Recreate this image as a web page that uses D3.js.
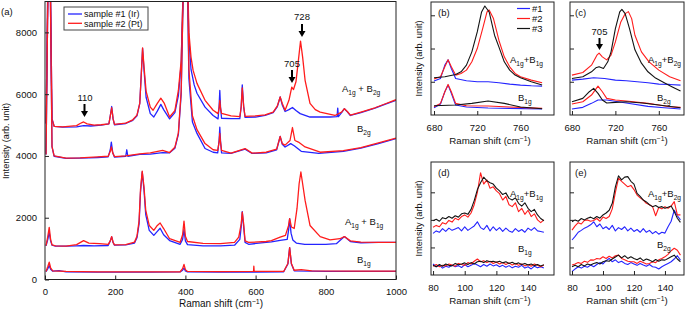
<!DOCTYPE html>
<html>
<head>
<meta charset="utf-8">
<script src="https://cdnjs.cloudflare.com/ajax/libs/d3/7.8.5/d3.min.js"></script>
<style>
  body { margin: 0; background: #fff; }
  svg { display: block; font-family: "Liberation Sans", Arial, sans-serif; }
</style>
</head>
<body>
<svg id="fig" width="685" height="309"></svg>
<script>
// ---- panel (a): full spectra, [Raman shift, intensity] pairs ----
const a_A1gB2g_s1 = [[3,5050],[8,9500],[12,12000],[16,9000],[20,5200],[26,4960],[50,4930],[90,4940],[110,4980],[130,4970],[160,5000],[182,5040],[186,5300],[190,5600],[194,5200],[198,5010],[230,5050],[250,5150],[262,5300],[270,5700],[275,6800],[278,7480],[282,6800],[288,5900],[300,5370],[310,5260],[320,5450],[330,5670],[338,5500],[355,5200],[370,5400],[380,5950],[388,7000],[395,10000],[400,12000],[405,10000],[410,7800],[416,6800],[425,6300],[433,6030],[456,5580],[479,5310],[493,5200],[496,5600],[498,6120],[500,5600],[503,5220],[530,5210],[555,5210],[559,5600],[562,6300],[566,5600],[570,5250],[600,5260],[627,5310],[650,5400],[662,5600],[670,5910],[676,5650],[684,5440],[695,5500],[705,5570],[715,5470],[727,5370],[755,5260],[812,5260],[832,5270],[834,5550],[836,5270],[845,5400],[853,5530],[862,5420],[870,5310],[900,5400],[940,5550],[970,5680],[1000,5800]];
const a_A1gB2g_s2 = [[3,5050],[8,9500],[12,12000],[16,9000],[20,5200],[26,4960],[50,4940],[90,4980],[100,5050],[110,5100],[120,5040],[140,5000],[160,5010],[182,5040],[186,5300],[190,5560],[194,5200],[198,5020],[230,5060],[250,5170],[262,5320],[270,5700],[275,6800],[278,7500],[282,6900],[288,6100],[300,5580],[308,5480],[320,5700],[330,5870],[340,5700],[355,5260],[370,5470],[380,6120],[388,7100],[395,10000],[400,12000],[405,10500],[410,8000],[416,7200],[422,6770],[433,6350],[456,5800],[479,5480],[493,5370],[496,5550],[498,5800],[500,5550],[503,5380],[530,5300],[555,5270],[559,5600],[562,6200],[566,5600],[570,5280],[600,5300],[627,5330],[650,5420],[662,5620],[670,5910],[676,5700],[684,5480],[695,5800],[703,6230],[708,6150],[715,6400],[722,7100],[728,7720],[734,7200],[741,6450],[755,5700],[770,5500],[784,5420],[826,5310],[845,5420],[853,5530],[862,5430],[870,5320],[900,5420],[940,5560],[970,5690],[1000,5820]];
const a_B2g_s1 = [[3,4050],[8,9000],[12,12000],[16,8500],[20,4300],[26,3990],[60,3920],[100,3930],[150,3950],[180,3970],[186,4200],[189,4450],[193,4100],[198,3960],[230,3990],[233,4200],[236,3990],[270,4050],[300,4060],[335,4110],[355,4100],[370,4250],[380,4700],[388,6000],[395,10000],[400,12000],[405,10000],[410,6500],[420,5100],[433,4730],[456,4240],[479,4120],[492,4100],[496,4500],[498,4930],[500,4500],[503,4100],[530,4080],[570,4220],[590,4080],[630,4100],[660,4200],[670,4630],[676,4380],[684,4290],[700,4400],[710,4330],[730,4150],[780,4080],[850,4150],[900,4250],[950,4400],[1000,4560]];
const a_B2g_s2 = [[3,4050],[8,9000],[12,12000],[16,8500],[20,4300],[26,4000],[60,3930],[100,3940],[150,3970],[180,3990],[186,4150],[189,4290],[193,4100],[198,3980],[230,4000],[270,4070],[300,4100],[335,4180],[355,4110],[370,4280],[380,4750],[388,6100],[395,10000],[400,12000],[405,10500],[410,6800],[420,5300],[433,4850],[456,4400],[479,4200],[492,4180],[496,4450],[498,4730],[500,4450],[503,4180],[530,4090],[570,4240],[590,4090],[630,4120],[660,4220],[670,4630],[676,4400],[684,4350],[698,4500],[705,4920],[712,4500],[722,4450],[741,4290],[784,4120],[850,4170],[900,4270],[950,4420],[1000,4580]];
const a_A1gB1g_s1 = [[3,1090],[8,1300],[12,1530],[16,1250],[20,1110],[30,1080],[60,1080],[90,1090],[110,1100],[140,1090],[180,1100],[186,1250],[190,1380],[194,1200],[198,1110],[230,1120],[255,1180],[262,1350],[268,1800],[272,2800],[277,3480],[282,2900],[287,2100],[297,1590],[310,1430],[320,1560],[328,1660],[338,1450],[355,1260],[385,1140],[392,1300],[396,1610],[400,1250],[406,1130],[450,1090],[500,1090],[540,1110],[555,1300],[559,1700],[562,2200],[566,1700],[570,1200],[580,1140],[630,1200],[645,1220],[670,1270],[690,1300],[694,1600],[697,1970],[701,1500],[706,1280],[716,1180],[740,1140],[800,1140],[830,1160],[853,1390],[870,1230],[900,1190],[950,1200],[1000,1200]];
const a_A1gB1g_s2 = [[3,1100],[8,1400],[12,1690],[16,1300],[20,1120],[30,1090],[60,1080],[90,1130],[110,1260],[125,1180],[155,1160],[180,1140],[186,1250],[190,1390],[194,1200],[198,1120],[230,1130],[255,1210],[262,1400],[268,1900],[272,2900],[277,3510],[282,3000],[287,2240],[297,1750],[310,1590],[320,1750],[328,1830],[338,1650],[355,1320],[385,1200],[392,1450],[396,1890],[400,1400],[406,1230],[450,1170],[500,1160],[540,1200],[552,1370],[559,1800],[562,2180],[566,1800],[570,1250],[580,1200],[630,1230],[645,1260],[670,1370],[685,1430],[694,1750],[697,1970],[702,1700],[710,1650],[718,2300],[724,3100],[729,3480],[734,3100],[741,2560],[755,1750],[784,1390],[812,1280],[840,1320],[853,1390],[870,1250],[900,1210],[950,1200],[1000,1200]];
const a_B1g_s1 = [[3,250],[8,350],[12,450],[16,330],[22,270],[40,290],[60,250],[150,240],[300,240],[385,245],[392,300],[396,370],[400,280],[406,245],[500,240],[600,240],[680,250],[692,500],[697,1030],[702,500],[710,280],[800,260],[900,260],[1000,260]];
const a_B1g_s2 = [[3,260],[8,420],[12,560],[16,380],[22,280],[60,260],[150,250],[300,250],[385,250],[392,350],[396,490],[400,320],[406,260],[500,255],[594,260],[595,430],[596,260],[680,260],[692,520],[697,1030],[702,520],[710,300],[730,320],[760,280],[900,270],[1000,270]];

// ---- panels (b), (c): 680-780 cm-1, arbitrary units ----
const b_upper_1 = [[680,1.02],[686,1.1],[690,1.5],[693,1.66],[696,1.4],[700,1.1],[710,1.03],[720,1.0],[730,1.0],[740,0.97],[750,0.93],[760,0.9],[770,0.88],[780,0.87]];
const b_upper_2 = [[680,1.08],[686,1.15],[690,1.45],[693,1.66],[696,1.45],[700,1.2],[705,1.25],[710,1.35],[715,1.6],[720,2.0],[725,2.6],[729,3.1],[731,3.16],[735,2.9],[740,2.25],[745,1.75],[750,1.45],[755,1.25],[760,1.15],[770,1.05],[780,0.97]];
const b_upper_3 = [[680,1.12],[690,1.15],[700,1.22],[705,1.3],[710,1.5],[715,1.9],[720,2.5],[724,3.1],[727,3.28],[731,3.1],[736,2.4],[740,2.05],[745,1.6],[750,1.35],[755,1.2],[760,1.12],[770,1.0],[780,0.9]];
const b_lower_1 = [[680,0.22],[686,0.33],[690,0.7],[693,0.9],[696,0.65],[700,0.3],[710,0.24],[730,0.21],[750,0.2],[780,0.18]];
const b_lower_2 = [[680,0.25],[686,0.35],[690,0.7],[693,0.92],[696,0.7],[700,0.35],[710,0.28],[730,0.27],[750,0.24],[780,0.2]];
const b_lower_3 = [[680,0.28],[700,0.3],[715,0.35],[730,0.42],[745,0.35],[760,0.24],[780,0.19]];

const c_upper_1 = [[680,1.05],[690,1.08],[700,1.12],[710,1.1],[720,1.05],[730,1.03],[740,1.0],[750,0.97],[760,0.93],[770,0.92],[780,0.9]];
const c_upper_2 = [[680,1.2],[690,1.28],[698,1.5],[703,1.8],[705,1.86],[708,1.75],[712,1.66],[716,1.8],[720,2.2],[725,2.8],[729,3.05],[732,3.11],[735,2.9],[738,2.4],[744,1.9],[751,1.6],[760,1.35],[770,1.15],[780,1.03]];
const c_upper_3 = [[680,1.1],[690,1.15],[698,1.3],[702,1.42],[705,1.45],[709,1.4],[713,1.6],[716,1.9],[720,2.6],[724,3.1],[726,3.18],[729,3.05],[733,2.6],[738,1.96],[744,1.56],[750,1.3],[757,1.11],[765,0.97],[772,0.85],[780,0.72]];
const c_lower_1 = [[680,0.18],[690,0.23],[698,0.35],[704,0.45],[712,0.45],[730,0.36],[750,0.26],[765,0.22],[780,0.18]];
const c_lower_2 = [[680,0.33],[690,0.4],[698,0.6],[704,0.87],[708,0.7],[712,0.5],[720,0.45],[730,0.42],[750,0.35],[760,0.3],[770,0.25],[780,0.23]];
const c_lower_3 = [[680,0.4],[690,0.5],[696,0.7],[700,0.8],[704,0.65],[708,0.45],[712,0.36],[720,0.38],[730,0.4],[745,0.36],[760,0.3],[780,0.22]];

// ---- panels (d), (e): 80-150 cm-1 ----
const lowShift = [80,82,84,86,88,90,92,94,96,98,100,102,104,106,108,110,112,114,116,118,120,122,124,126,128,130,132,134,136,138,140,142,144,146,148,150];
const d_upper_1 = [1.51,1.6,1.55,1.68,1.58,1.7,1.62,1.67,1.72,1.6,1.75,1.62,1.7,1.78,1.93,1.72,1.65,1.8,1.6,1.75,1.62,1.72,1.58,1.7,1.6,1.55,1.68,1.58,1.65,1.55,1.7,1.62,1.72,1.6,1.58,1.55];
const d_upper_2 = [1.73,1.8,1.75,1.9,1.85,1.98,1.92,2.06,2.0,2.12,2.18,2.1,2.25,2.55,3.0,3.71,3.3,3.45,3.15,3.2,3.05,2.95,2.72,2.85,2.55,2.48,2.62,2.3,2.42,2.2,2.35,2.12,2.22,2.0,1.9,2.0];
const d_upper_3 = [1.97,2.02,1.95,2.08,2.04,2.12,2.06,2.15,2.1,2.22,2.25,2.2,2.38,2.7,3.1,3.35,3.55,3.42,3.35,3.3,3.15,3.05,2.92,2.98,2.78,2.72,2.8,2.6,2.5,2.62,2.42,2.3,2.38,2.18,2.05,1.97];
const d_lower_1 = [0.4,0.3,0.35,0.25,0.32,0.28,0.36,0.3,0.34,0.27,0.38,0.3,0.35,0.42,0.36,0.3,0.38,0.32,0.4,0.33,0.37,0.3,0.35,0.28,0.34,0.26,0.32,0.28,0.35,0.25,0.3,0.22,0.32,0.26,0.3,0.25];
const d_lower_2 = [0.32,0.38,0.3,0.35,0.33,0.4,0.36,0.32,0.42,0.38,0.35,0.45,0.4,0.5,0.58,0.48,0.52,0.45,0.5,0.42,0.47,0.4,0.45,0.38,0.44,0.36,0.42,0.35,0.4,0.33,0.38,0.32,0.4,0.35,0.3,0.36];
const d_lower_3 = [0.35,0.3,0.38,0.32,0.4,0.35,0.33,0.42,0.37,0.4,0.44,0.38,0.45,0.4,0.48,0.5,0.45,0.52,0.48,0.5,0.46,0.5,0.44,0.48,0.42,0.46,0.4,0.44,0.38,0.42,0.36,0.4,0.34,0.38,0.33,0.37];
const e_upper_1 = [1.27,1.4,1.55,1.62,1.7,1.75,1.82,1.93,1.75,1.85,1.68,1.75,1.65,1.8,1.6,1.72,1.65,1.75,1.6,1.7,1.58,1.65,1.55,1.68,1.55,1.62,1.5,1.58,1.48,1.55,1.52,1.75,1.95,2.35,2.15,2.0];
const e_upper_2 = [1.63,1.78,1.9,1.85,1.98,2.0,1.95,1.98,2.05,1.95,2.1,2.05,2.12,2.4,3.0,3.51,3.4,3.3,3.2,3.25,3.1,2.9,2.8,2.72,2.6,2.55,2.48,2.15,2.45,2.4,2.48,2.42,2.5,2.66,2.18,2.18];
const e_upper_3 = [1.93,2.0,1.95,2.05,2.0,2.06,2.1,2.04,2.12,2.06,2.18,2.25,2.35,2.6,3.2,3.6,3.45,3.55,3.57,3.4,3.3,2.96,2.85,2.72,2.65,2.55,2.48,2.52,2.45,2.48,2.42,2.46,2.5,2.3,2.06,1.91];
const e_lower_1 = [0.12,0.22,0.3,0.25,0.32,0.28,0.36,0.3,0.38,0.45,0.4,0.52,0.6,0.48,0.55,0.45,0.5,0.42,0.38,0.45,0.4,0.35,0.42,0.36,0.32,0.38,0.3,0.28,0.22,0.3,0.36,0.42,0.48,0.58,0.7,0.54];
const e_lower_2 = [0.36,0.4,0.45,0.42,0.5,0.46,0.55,0.54,0.6,0.58,0.66,0.6,0.68,0.62,0.7,0.72,0.6,0.55,0.5,0.48,0.48,0.42,0.5,0.45,0.4,0.42,0.48,0.45,0.55,0.6,0.66,0.75,0.88,0.97,0.9,0.72];
const e_lower_3 = [0.3,0.35,0.3,0.38,0.33,0.4,0.36,0.42,0.45,0.4,0.48,0.52,0.5,0.58,0.65,0.72,0.62,0.7,0.6,0.66,0.6,0.55,0.62,0.52,0.58,0.54,0.48,0.56,0.5,0.55,0.54,0.6,0.66,0.72,0.58,0.48];

const ticksA_x = [0, 200, 400, 600, 800, 1000];
const ticksA_y = [0, 2000, 4000, 6000, 8000];
const ticksHigh = [680, 720, 760];
const ticksLow = [80, 100, 120, 140];
const ticksRel = [1, 2, 3];

const BLUE = '#2424ff', RED = '#ff1c1c', BLACK = '#141414';
const svg = d3.select('#fig');

// one framed panel with inward ticks, clipped traces
function drawPanel(id, box, xDom, yDom, xTicks, yTicks, showY, traces, lw) {
  const x = d3.scaleLinear().domain(xDom).range([box.x0, box.x1]);
  const y = d3.scaleLinear().domain(yDom).range([box.y1, box.y0]);

  svg.append('clipPath').attr('id', 'clip-' + id)
    .append('rect')
    .attr('x', box.x0).attr('y', box.y0)
    .attr('width', box.x1 - box.x0).attr('height', box.y1 - box.y0);

  const line = d3.line().x(d => x(d[0])).y(d => y(d[1]));
  const g = svg.append('g').attr('clip-path', 'url(#clip-' + id + ')');
  traces.forEach(t => {
    g.append('path')
      .attr('d', line(t.data))
      .attr('fill', 'none')
      .attr('stroke', t.color)
      .attr('stroke-width', lw)
      .attr('stroke-linejoin', 'round');
  });

  const xa = svg.append('g')
    .attr('transform', 'translate(0,' + box.y1 + ')')
    .call(d3.axisBottom(x).tickValues(xTicks).tickSize(-4).tickPadding(9).tickSizeOuter(0)
      .tickFormat(d3.format('d')));
  const ya = svg.append('g')
    .attr('transform', 'translate(' + box.x0 + ',0)')
    .call(d3.axisLeft(y).tickValues(yTicks).tickSize(-4).tickPadding(8).tickSizeOuter(0)
      .tickFormat(showY ? d3.format('d') : () => ''));
  [xa, ya].forEach(a => {
    a.select('.domain').remove();
    a.selectAll('line').attr('stroke', '#222');
    a.selectAll('text').attr('font-size', 9.5).attr('fill', '#111')
      .attr('font-family', '"Liberation Sans", Arial, sans-serif');
  });

  svg.append('rect')
    .attr('x', box.x0).attr('y', box.y0)
    .attr('width', box.x1 - box.x0).attr('height', box.y1 - box.y0)
    .attr('fill', 'none').attr('stroke', '#222').attr('stroke-width', 1);
  return { x, y };
}

// text with subscripts; parts = [text, isSub]
function subText(x, y, parts, size) {
  const fs = size || 9.5;
  const t = svg.append('text').attr('x', x).attr('y', y)
    .attr('font-size', fs).attr('fill', '#111');
  let shifted = false;
  parts.forEach(([s, sub]) => {
    const sp = t.append('tspan').text(s);
    if (sub && !shifted) { sp.attr('dy', 2.6).attr('font-size', fs * 0.7); shifted = true; }
    else if (sub) { sp.attr('font-size', fs * 0.7); }
    else if (shifted) { sp.attr('dy', -2.6); shifted = false; }
  });
  return t;
}

function xTitle(cx, y, fs) {
  const t = svg.append('text').attr('x', cx).attr('y', y)
    .attr('text-anchor', 'middle').attr('font-size', fs).attr('fill', '#111');
  t.append('tspan').text('Raman shift (cm');
  t.append('tspan').text('\u22121').attr('font-size', fs * 0.7).attr('dy', -3.5);
  t.append('tspan').text(')').attr('dy', 3.5);
}

function yTitle(x, cy) {
  svg.append('text')
    .attr('transform', 'translate(' + x + ',' + cy + ') rotate(-90)')
    .attr('text-anchor', 'middle').attr('font-size', 9.2).attr('fill', '#111')
    .text('Intensity (arb. unit)');
}

function arrow(x, yTop, yTip) {
  svg.append('line').attr('x1', x).attr('x2', x).attr('y1', yTop).attr('y2', yTip - 5)
    .attr('stroke', '#000').attr('stroke-width', 2);
  svg.append('path')
    .attr('d', 'M' + (x - 3.5) + ',' + (yTip - 6) + 'L' + (x + 3.5) + ',' + (yTip - 6) + 'L' + x + ',' + yTip + 'Z')
    .attr('fill', '#000');
}

function label(x, y, s, anchor) {
  svg.append('text').attr('x', x).attr('y', y).attr('font-size', 9.5).attr('fill', '#111')
    .attr('text-anchor', anchor || 'start').text(s);
}

// ---- (a) ----
const pairs = (s1, s2) => [{ data: s1, color: BLUE }, { data: s2, color: RED }];
drawPanel('a', { x0: 45, x1: 396, y0: 1.5, y1: 279.5 }, [0, 1000], [0, 9000], ticksA_x, ticksA_y, true,
  [].concat(pairs(a_A1gB2g_s1, a_A1gB2g_s2), pairs(a_B2g_s1, a_B2g_s2),
            pairs(a_A1gB1g_s1, a_A1gB1g_s2), pairs(a_B1g_s1, a_B1g_s2)), 1.3);
xTitle(221, 307, 10);
yTitle(9, 141);
label(1, 15, '(a)');

const leg = svg.append('g');
leg.append('rect').attr('x', 64).attr('y', 7).attr('width', 84).attr('height', 23)
  .attr('fill', '#fff').attr('stroke', '#444');
[['sample #1 (Ir)', BLUE, 14], ['sample #2 (Pt)', RED, 23.3]].forEach(([t, c, yy]) => {
  leg.append('line').attr('x1', 68).attr('x2', 82).attr('y1', yy).attr('y2', yy)
    .attr('stroke', c).attr('stroke-width', 1.3);
  leg.append('text').attr('x', 84).attr('y', yy + 3.2).attr('font-size', 9).attr('fill', '#111').text(t);
});

subText(342, 92, [['A'], ['1g', 1], [' + B'], ['2g', 1]]);
subText(357, 132, [['B'], ['2g', 1]]);
subText(345, 225, [['A'], ['1g', 1], [' + B'], ['1g', 1]]);
subText(357, 263, [['B'], ['1g', 1]]);

label(85, 101, '110', 'middle'); arrow(84.5, 104, 117);
label(292, 67, '705', 'middle'); arrow(292, 70, 83);
label(302, 20, '728', 'middle'); arrow(302, 24, 37);

// ---- (b) ----
const trio = (s1, s2, s3) => [{ data: s1, color: BLUE }, { data: s2, color: RED }, { data: s3, color: BLACK }];
drawPanel('b', { x0: 431, x1: 554, y0: 2, y1: 115 }, [677.2, 791], [0, 3.4], ticksHigh, ticksRel, false,
  [].concat(trio(b_upper_1, b_upper_2, b_upper_3), trio(b_lower_1, b_lower_2, b_lower_3)), 1.1);
xTitle(490, 144, 9.7);
yTitle(422, 58.5);
label(438, 16, '(b)');
[['#1', BLUE, 8.5], ['#2', RED, 18.5], ['#3', BLACK, 28.5]].forEach(([t, c, yy]) => {
  svg.append('line').attr('x1', 517).attr('x2', 530).attr('y1', yy).attr('y2', yy)
    .attr('stroke', c).attr('stroke-width', 1.2);
  label(532, yy + 3.2, t);
});
subText(510, 63, [['A'], ['1g', 1], ['+B'], ['1g', 1]]);
subText(518, 101, [['B'], ['1g', 1]]);

// ---- (c) ----
drawPanel('c', { x0: 570, x1: 684, y0: 2, y1: 115 }, [678.2, 783.2], [0, 3.4], ticksHigh, ticksRel, false,
  [].concat(trio(c_upper_1, c_upper_2, c_upper_3), trio(c_lower_1, c_lower_2, c_lower_3)), 1.1);
xTitle(627, 144, 9.7);
label(575, 16, '(c)');
label(599.5, 35, '705', 'middle'); arrow(599.5, 38, 50);
subText(648, 63, [['A'], ['1g', 1], ['+B'], ['2g', 1]]);
subText(657, 101, [['B'], ['2g', 1]]);

// ---- (d) ----
const zipLow = ys => d3.zip(lowShift, ys);
drawPanel('d', { x0: 431, x1: 554, y0: 162, y1: 275 }, [78.7, 156.4], [0, 4.1], ticksLow, ticksRel, false,
  [].concat(trio(zipLow(d_upper_1), zipLow(d_upper_2), zipLow(d_upper_3)),
            trio(zipLow(d_lower_1), zipLow(d_lower_2), zipLow(d_lower_3))), 1.1);
xTitle(490, 304, 9.7);
yTitle(422, 218.5);
label(438, 176, '(d)');
subText(510, 197, [['A'], ['1g', 1], ['+B'], ['1g', 1]]);
subText(518, 252, [['B'], ['1g', 1]]);

// ---- (e) ----
drawPanel('e', { x0: 570, x1: 684, y0: 162, y1: 275 }, [78.7, 152.3], [0, 4.1], ticksLow, ticksRel, false,
  [].concat(trio(zipLow(e_upper_1), zipLow(e_upper_2), zipLow(e_upper_3)),
            trio(zipLow(e_lower_1), zipLow(e_lower_2), zipLow(e_lower_3))), 1.1);
xTitle(627, 304, 9.7);
label(575, 176, '(e)');
subText(648, 197, [['A'], ['1g', 1], ['+B'], ['2g', 1]]);
subText(657, 248, [['B'], ['2g', 1]]);
</script>
</body>
</html>
